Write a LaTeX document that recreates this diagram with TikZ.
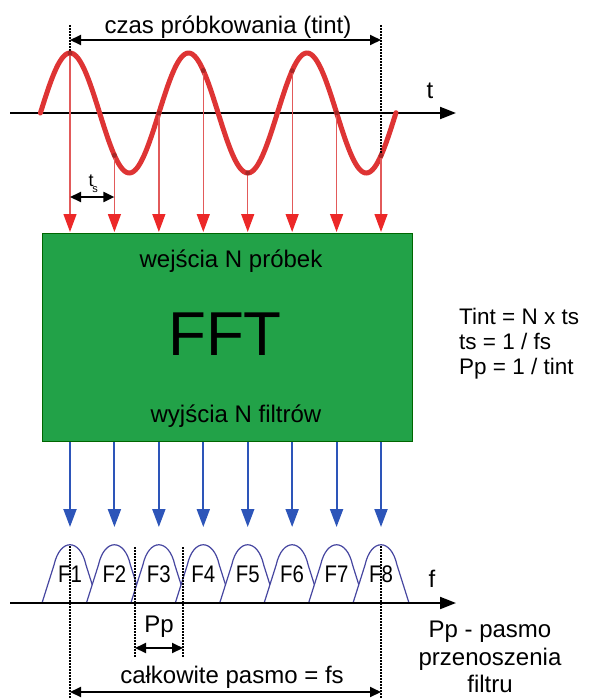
\documentclass[tikz,border=0pt]{standalone}
\usepackage{fontspec}
\setmainfont{Liberation Sans}
\usetikzlibrary{arrows.meta}
\definecolor{sinered}{RGB}{222,52,52}
\definecolor{samplered}{RGB}{226,90,90}
\definecolor{tipred}{RGB}{236,40,40}
\definecolor{fftgreen}{RGB}{34,162,72}
\definecolor{outblue}{RGB}{45,85,185}
\definecolor{humpblue}{RGB}{70,70,160}
\tikzset{
  lbl/.style={font=\fontsize{24}{28}\selectfont, inner sep=0pt, anchor=base},
  eqlbl/.style={font=\fontsize{22.5}{25}\selectfont, inner sep=0pt, anchor=base west},
  dimarrow/.style={line width=2pt, {Triangle[length=11pt,width=10pt]}-{Triangle[length=11pt,width=10pt]}},
  axisline/.style={line width=2pt, -{Triangle[length=16pt,width=12pt]}},
  samplearrow/.style={samplered, line width=1.3pt, -{Triangle[length=18pt,width=13pt,color=tipred]}},
  bluearrow/.style={outblue, line width=2pt, -{Triangle[length=18pt,width=13pt]}},
  guide/.style={line width=1.5pt, dash pattern=on 1.5pt off 1.5pt},
  hump/.style={humpblue, line width=1.2pt, fill=white},
  flbl/.style={font=\fontsize{24}{27}\selectfont, inner sep=0pt, anchor=base}
}
\begin{document}
\begin{tikzpicture}[x=1pt,y=-1pt]
\useasboundingbox (0,0) rectangle (592,699);

% time axis
\coordinate (tA) at (10,113);
\coordinate (tB) at (456,113);
\draw[axisline] (tA) -- (tB);
\node[lbl] (tlbl) at (430,98) {t};

% sine wave
\draw[sinered, line width=5pt, line cap=round, domain=40.4:396, samples=240, smooth]
  plot (\x, {113-60*sin((\x-40.4)/118.5*360)});

% sampling interval
\coordinate (tiL) at (70,40);
\coordinate (tiR) at (381,40);
\draw[guide] (70,25) -- (70,53);
\draw[guide] (381,25) -- (381,156);
\draw[dimarrow] (tiL) -- (tiR);
\node[lbl] (tint) at (228,33) {czas próbkowania (tint)};

% FFT box
\node[draw=black!60!green, fill=fftgreen, line width=1.2pt, minimum width=370pt, minimum height=208pt, inner sep=0pt, anchor=north west] (fft) at (42,233) {};
\node[lbl] (win) at (231,267) {wejścia N próbek};
\node[font=\fontsize{62}{64}\selectfont, inner sep=0pt, anchor=base] (fftlbl) at (225,355) {FFT};
\node[lbl] (wout) at (236,422) {wyjścia N filtrów};

% samples, outputs, humps
\foreach \k in {0,...,7}{
  \pgfmathsetmacro{\xx}{70+44.43*\k}
  \pgfmathsetmacro{\yy}{113-60*sin((\xx-40.4)/118.5*360)}
  \draw[samplearrow] (\xx,\yy) -- (\xx,232);
  \fill[sinered!75!black] (\xx,\yy) circle (2.5);
  \draw[bluearrow] (\xx,442) -- (\xx,527);
  \draw[hump] (\xx-28,603) -- (\xx-16,565) .. controls (\xx-10,538) and (\xx+10,538) .. (\xx+16,565) -- (\xx+28,603);
  \pgfmathtruncatemacro{\nn}{\k+1}
  \node[flbl] (F\nn) at (\xx,582) {\scalebox{0.85}[1]{F\nn}};
}

% ts
\coordinate (tsL) at (70,197);
\coordinate (tsR) at (114.4,197);
\draw[dimarrow] (tsL) -- (tsR);
\node[font=\fontsize{18}{20}\selectfont, inner sep=0pt, anchor=base] (tslbl) at (91,186) {t};
\node[font=\fontsize{11}{12}\selectfont, inner sep=0pt] (tssub) at (95,190) {s};

% frequency axis
\coordinate (fA) at (10,603);
\coordinate (fB) at (456,603);
\draw[axisline] (fA) -- (fB);
\node[lbl] (flbl) at (432,587) {f};

% bottom guides
\draw[guide] (70,546) -- (70,699);
\draw[guide] (381,546) -- (381,699);
\draw[guide] (135,547) -- (135,657);
\draw[guide] (183,547) -- (183,657);

\coordinate (ppL) at (135,648);
\coordinate (ppR) at (183,648);
\draw[dimarrow] (ppL) -- (ppR);
\node[lbl] (pp) at (159,632) {Pp};

\coordinate (fsL) at (70,692);
\coordinate (fsR) at (381,692);
\draw[dimarrow] (fsL) -- (fsR);
\node[lbl] (fs) at (232,683) {całkowite pasmo = fs};

% right side texts
\node[eqlbl] (eq1) at (459,324) {Tint = N x ts};
\node[eqlbl] (eq2) at (459,349) {ts = 1 / fs};
\node[eqlbl] (eq3) at (459,374) {Pp = 1 / tint};

\node[font=\fontsize{24}{27.5}\selectfont, inner sep=0pt, align=center, anchor=north] (desc) at (490,621)
  {Pp - pasmo\\przenoszenia\\filtru};
\end{tikzpicture}
\end{document}
